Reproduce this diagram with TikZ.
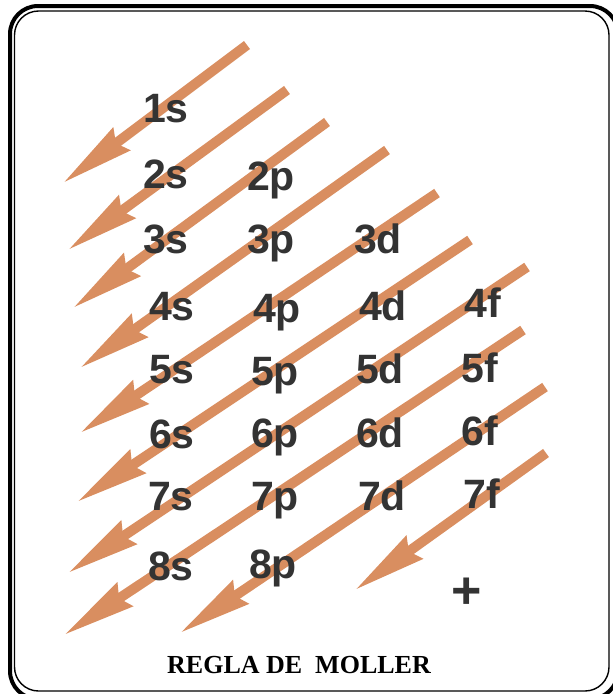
\documentclass[tikz,border=0pt]{standalone}
\usepackage{fontspec}
\setmainfont{Liberation Serif}
\newfontfamily\orbfont{Liberation Sans}
\usetikzlibrary{arrows.meta}
\definecolor{arrowc}{HTML}{D98E60}
\definecolor{labelc}{HTML}{333333}

\begin{document}
\begin{tikzpicture}[x=1pt,y=-1pt,
    moller/.style={draw=arrowc, line width=10pt, -{Stealth[length=72pt,width=27pt,inset=6pt]}},
    orbital/.style={anchor=base, inner sep=0pt, text=labelc, font=\orbfont\bfseries\fontsize{41}{41}\selectfont},
    caption/.style={anchor=base, inner sep=0pt, font=\bfseries\fontsize{26}{26}\selectfont}]
    \useasboundingbox (0,0) rectangle (613,694);

    % Draw the double frame
    \begin{scope}
        \clip (0,0) rectangle (613,694);
        \draw[line width=4pt, rounded corners=28pt] (10,6) rectangle (618,699);
    \end{scope}
    \draw[line width=1.4pt, rounded corners=24pt] (14.5,11) rectangle (609,691);

    % Diagonal arrows
    \draw[moller] (247,45) -- (63,183);
    \draw[moller] (287,90) -- (68,250);
    \draw[moller] (327,122) -- (73,308);
    \draw[moller] (387,150) -- (80,368);
    \draw[moller] (437,193) -- (80,433);
    \draw[moller] (470,240) -- (77,502);
    \draw[moller] (527,267) -- (68,573);
    \draw[moller] (523,330) -- (64,635);
    \draw[moller] (545,387) -- (180,633);
    \draw[moller] (546,453) -- (355,590);

    % Sublevels
    \node[orbital] (o1s) at (166,122) {1s};
    \node[orbital] (o2s) at (166,188) {2s};
    \node[orbital] (o2p) at (271,190) {2p};
    \node[orbital] (o3s) at (166,253) {3s};
    \node[orbital] (o3p) at (271,253) {3p};
    \node[orbital] (o3d) at (378,253) {3d};
    \node[orbital] (o4s) at (172,320) {4s};
    \node[orbital] (o4p) at (277,322) {4p};
    \node[orbital] (o4d) at (383,320) {4d};
    \node[orbital] (o4f) at (483,317) {4f};
    \node[orbital] (o5s) at (172,383) {5s};
    \node[orbital] (o5p) at (275,385) {5p};
    \node[orbital] (o5d) at (380,383) {5d};
    \node[orbital] (o5f) at (480,382) {5f};
    \node[orbital] (o6s) at (172,448) {6s};
    \node[orbital] (o6p) at (275,447) {6p};
    \node[orbital] (o6d) at (380,447) {6d};
    \node[orbital] (o6f) at (480,445) {6f};
    \node[orbital] (o7s) at (171,510) {7s};
    \node[orbital] (o7p) at (275,510) {7p};
    \node[orbital] (o7d) at (382,510) {7d};
    \node[orbital] (o7f) at (482,508) {7f};
    \node[orbital] (o8s) at (171,580) {8s};
    \node[orbital] (o8p) at (273,578) {8p};
    \node[orbital, font=\orbfont\bfseries\fontsize{52}{52}\selectfont] (plus) at (467,608) {+};

    % Title
    \node[caption] (title) at (299,673) {REGLA DE\ \ MOLLER};
\end{tikzpicture}
\end{document}
